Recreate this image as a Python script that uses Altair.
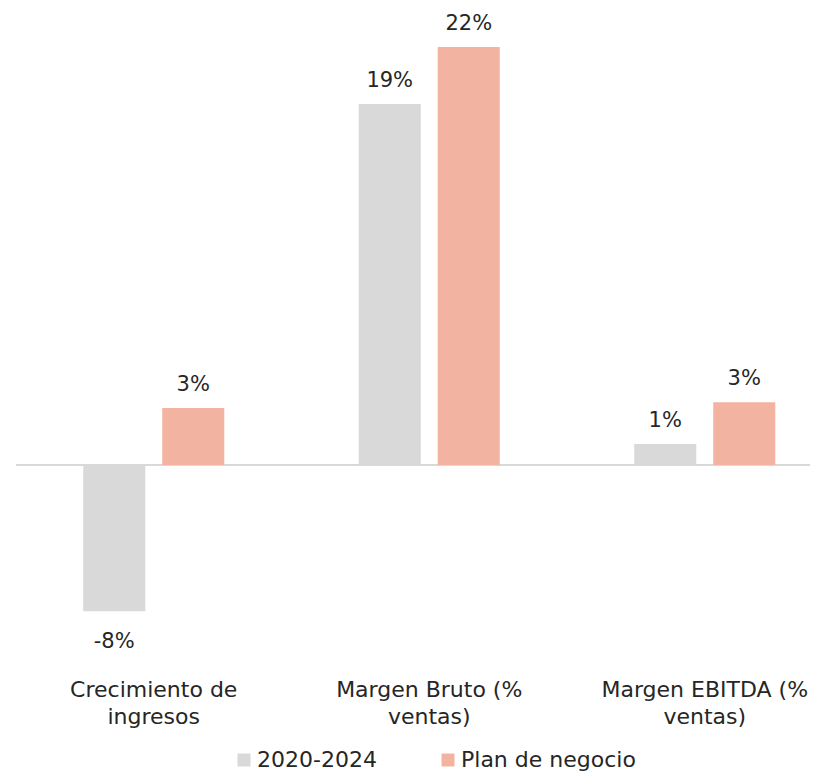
import altair as alt
import pandas as pd

categories = ["Crecimiento de ingresos", "Margen Bruto (% ventas)", "Margen EBITDA (% ventas)"]
category_lines = [["Crecimiento de", "ingresos"], ["Margen Bruto (%", "ventas)"], ["Margen EBITDA (%", "ventas)"]]
series = ["2020-2024", "Plan de negocio"]
hist_values = [-7.7, 19.0, 1.1]
plan_values = [3.0, 22.0, 3.3]
colors = ["#D9D9D9", "#F2B3A1"]

rows = []
for c, h, p in zip(categories, hist_values, plan_values):
    rows.append({"cat": c, "serie": series[0], "value": h})
    rows.append({"cat": c, "serie": series[1], "value": p})
df = pd.DataFrame(rows)
df["label"] = df["value"].round(0).astype(int).astype(str) + "%"

FONT = "DejaVu Sans"
FS = 21
TXT = "#262626"

label_expr = " : ".join(
    f"datum.value == '{c}' ? {lines!r}" for c, lines in zip(categories, category_lines)
) + " : datum.value"

x = alt.X(
    "cat:N",
    sort=categories,
    scale=alt.Scale(range=[0, 826.5], paddingInner=0.488, paddingOuter=0.244),
    axis=alt.Axis(
        title=None, domain=False, ticks=False, labelAngle=0,
        labelFont=FONT, labelFontSize=22, labelColor=TXT,
        labelPadding=24, labelLineHeight=27, labelExpr=label_expr,
        labelBaseline="top", labelLimit=400,
    ),
)
y = alt.Y("value:Q", scale=alt.Scale(domain=[-10, 24], nice=False, zero=False), axis=None)
xo = alt.XOffset("serie:N", sort=series, scale=alt.Scale(paddingInner=0.215))

base = alt.Chart(df)

bars = base.mark_bar().encode(
    x=x, xOffset=xo, y=y,
    color=alt.Color(
        "serie:N", sort=series,
        scale=alt.Scale(domain=series, range=colors),
        legend=alt.Legend(
            title=None, orient="none", direction="horizontal",
            legendX=217, legendY=740,
            symbolType="square", symbolSize=169, symbolStrokeWidth=0,
            labelFont=FONT, labelFontSize=22, labelColor=TXT, labelLimit=400,
            labelOffset=2, columnPadding=60,
        ),
    ),
)

zero = alt.Chart(pd.DataFrame({"z": [0]})).mark_rule(color="#D9D9D9", strokeWidth=2).encode(
    y=alt.Y("z:Q", scale=alt.Scale(domain=[-10, 24], nice=False, zero=False), axis=None)
)

pos_labels = base.transform_filter("datum.value >= 0").mark_text(
    baseline="alphabetic", dy=-17, font=FONT, fontSize=FS, color=TXT
).encode(x=x, xOffset=xo, y=y, text="label:N")

neg_labels = base.transform_filter("datum.value < 0").mark_text(
    baseline="alphabetic", dy=37, font=FONT, fontSize=FS, color=TXT
).encode(x=x, xOffset=xo, y=y, text="label:N")

chart = alt.layer(zero, bars, pos_labels, neg_labels).properties(
    width=794, height=646,
    autosize=alt.AutoSizeParams(type="none"),
    padding={"left": 8, "top": 1, "right": 0, "bottom": 119},
    background="white",
).configure_view(strokeWidth=0, stroke="transparent")

chart.save("out.html", embed_options={"renderer": "svg", "actions": False})
